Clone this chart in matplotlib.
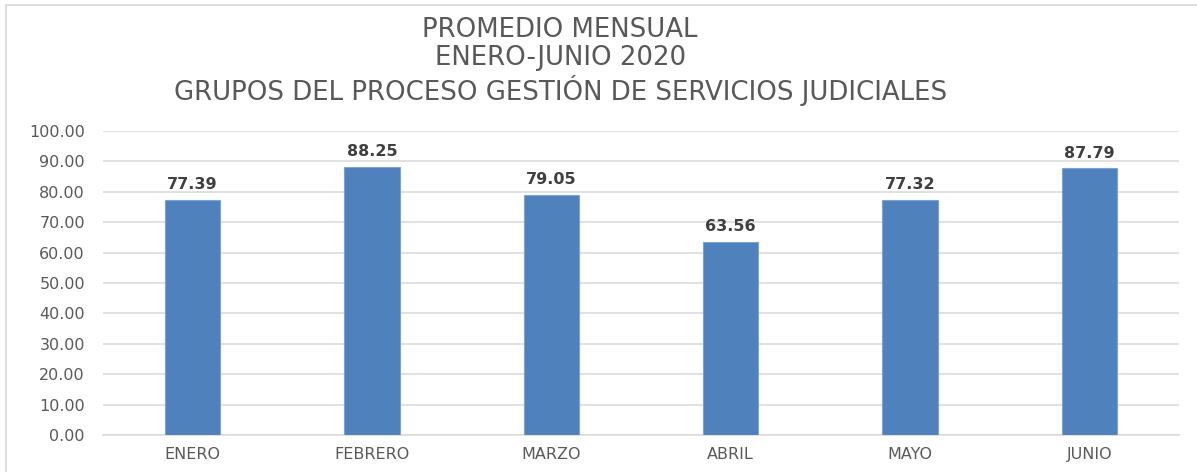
import matplotlib
matplotlib.use("Agg")
import matplotlib.pyplot as plt
from matplotlib.patches import Rectangle

# ---------------------------------------------------------------------------
# Data
# ---------------------------------------------------------------------------
months = ["ENERO", "FEBRERO", "MARZO", "ABRIL", "MAYO", "JUNIO"]
promedio = [77.39, 88.25, 79.05, 63.56, 77.32, 87.79]
title_lines = [
    "PROMEDIO MENSUAL",
    "ENERO-JUNIO 2020",
    "GRUPOS DEL PROCESO GESTIÓN DE SERVICIOS JUDICIALES",
]

plt.rcParams["font.family"] = ["DejaVu Sans"]

fig = plt.figure(figsize=(11.97, 4.72), dpi=100)
ax = fig.add_axes([0.086, 0.0784, 0.899, 0.644])

# outer chart border
fig.patches.append(Rectangle((0.005, -0.01), 1.2, 1.0, transform=fig.transFigure,
                             fill=False, edgecolor="#d9d9d9", linewidth=1.2))

x = range(len(months))
ax.bar(x, promedio, width=0.31, color="#4f81bd", edgecolor="#7fa3cf",
       linewidth=0.8, zorder=3)

for xi, v in zip(x, promedio):
    ax.text(xi, v + 2.5, f"{v:.2f}", ha="center", va="bottom",
            fontsize=11.5, fontweight="bold", color="#404040")

ax.set_xlim(-0.5, len(months) - 0.5)
ax.set_ylim(0, 100)
ax.set_yticks(range(0, 101, 10))
ax.set_yticklabels([f"{t:.2f}" for t in range(0, 101, 10)])
ax.set_xticks(list(x))
ax.set_xticklabels(months)
ax.tick_params(axis="both", length=0, labelsize=11.5, colors="#595959")
ax.tick_params(axis="x", pad=9)
ax.tick_params(axis="y", pad=13)
ax.grid(axis="y", color="#d9d9d9", linewidth=1.1, zorder=0)
for side in ["top", "right", "left"]:
    ax.spines[side].set_visible(False)
ax.spines["bottom"].set_color("#d9d9d9")
ax.spines["bottom"].set_linewidth(1.1)

ys = [0.937, 0.877, 0.808]
for line, y in zip(title_lines, ys):
    fig.text(0.468, y, line, ha="center", va="center", fontsize=18.7,
             color="#595959")

fig.savefig("out.png", dpi=100)
